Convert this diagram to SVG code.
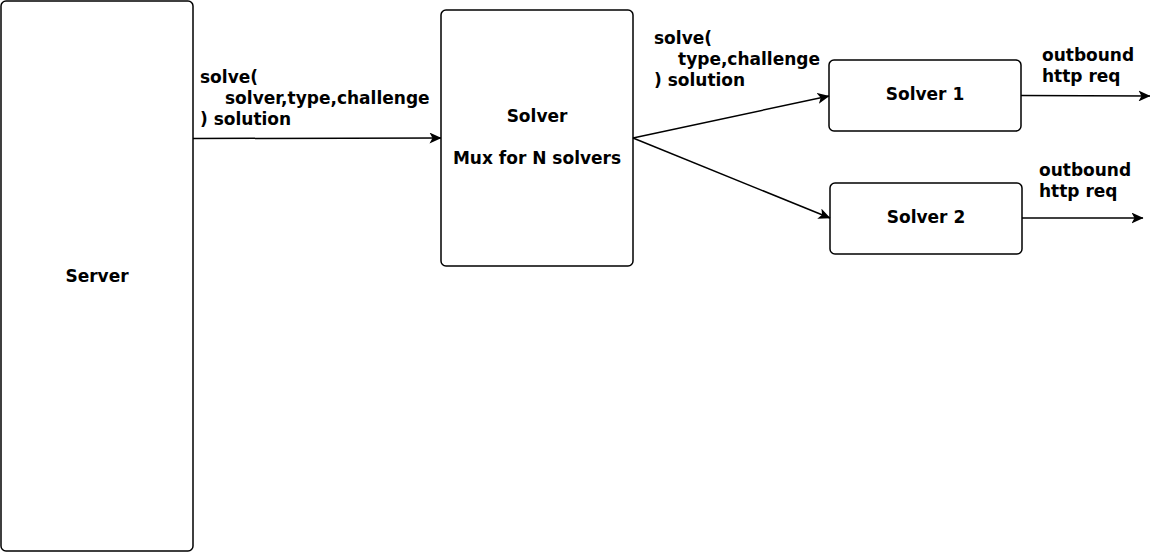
<svg xmlns="http://www.w3.org/2000/svg" width="1152" height="553" viewBox="0 0 1152 553">
<style>
.box{fill:#fff;stroke:#000;stroke-width:1.5}
.t{font-family:"DejaVu Sans",sans-serif;font-weight:bold;font-size:17px;fill:#000}
.c{text-anchor:middle}
.e{fill:none;stroke:#000;stroke-width:1.5}
</style>
<defs>
<marker id="ah" viewBox="0 0 12 11" refX="11.5" refY="5.5" markerWidth="12" markerHeight="11" markerUnits="userSpaceOnUse" orient="auto">
<path d="M0,0 L12,5.5 L0,11 L3,5.5 Z" fill="#000"/>
</marker>
</defs>
<rect width="1152" height="553" fill="#fff"/>
<g id="server">
<rect class="box" x="1" y="1" width="192" height="550" rx="5"/>
<text class="t c" x="97" y="282">Server</text>
</g>
<g id="solver">
<rect class="box" x="441" y="10" width="192" height="256" rx="5"/>
<text class="t c" x="537" y="122">Solver</text>
<text class="t c" x="537" y="164">Mux for N solvers</text>
</g>
<g id="solver1">
<rect class="box" x="829" y="60" width="192" height="71" rx="5"/>
<text class="t c" x="925" y="100">Solver 1</text>
</g>
<g id="solver2">
<rect class="box" x="830" y="183" width="192" height="71" rx="5"/>
<text class="t c" x="926" y="223">Solver 2</text>
</g>
<g id="connectors">
<path class="e" d="M193,138.5 L441,138" marker-end="url(#ah)"/>
<path class="e" d="M633,138 L829,96" marker-end="url(#ah)"/>
<path class="e" d="M633,138 L830,218" marker-end="url(#ah)"/>
<path class="e" d="M1021,95.5 L1150,96" marker-end="url(#ah)"/>
<path class="e" d="M1022,218 L1143,218" marker-end="url(#ah)"/>
</g>
<g id="labels">
<text class="t" x="200" y="83">solve(</text>
<text class="t" x="225" y="104">solver,type,challenge</text>
<text class="t" x="200" y="125">) solution</text>
<text class="t" x="654" y="44">solve(</text>
<text class="t" x="678" y="65">type,challenge</text>
<text class="t" x="654" y="86">) solution</text>
<text class="t" x="1042" y="61">outbound</text>
<text class="t" x="1042" y="82">http req</text>
<text class="t" x="1039" y="176">outbound</text>
<text class="t" x="1039" y="197">http req</text>
</g>
</svg>
